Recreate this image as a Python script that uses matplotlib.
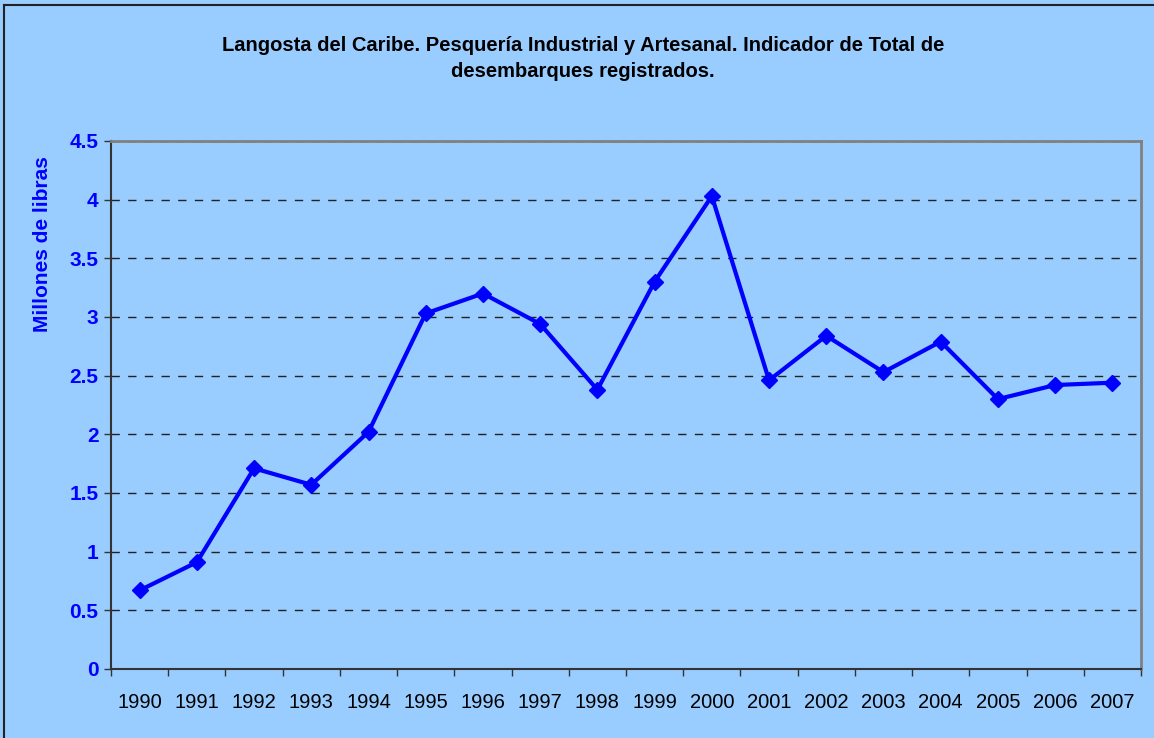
import matplotlib
matplotlib.use('Agg')
import matplotlib.pyplot as plt
from matplotlib.lines import Line2D

plt.rcParams['font.family'] = ['Liberation Sans', 'DejaVu Sans']

# datos: desembarques totales (millones de libras)
anios = ['1990', '1991', '1992', '1993', '1994', '1995', '1996', '1997', '1998',
         '1999', '2000', '2001', '2002', '2003', '2004', '2005', '2006', '2007']
desembarques = [0.67, 0.91, 1.71, 1.57, 2.02, 3.03, 3.20, 2.94, 2.38,
                3.30, 4.03, 2.46, 2.84, 2.53, 2.79, 2.30, 2.42, 2.44]
yticks = [0, 0.5, 1, 1.5, 2, 2.5, 3, 3.5, 4, 4.5]
titulo = ('Langosta del Caribe. Pesquería Industrial y Artesanal. Indicador de Total de\n'
          'desembarques registrados.')

fondo = '#99CCFF'
azul = '#0000FF'

fig = plt.figure(figsize=(11.54, 7.38), dpi=100)
fig.patch.set_facecolor(fondo)
ax = fig.add_axes([0.0962, 0.0935, 0.8925, 0.7155])
ax.set_facecolor(fondo)

x = list(range(len(anios)))
ax.plot(x, desembarques, color=azul, lw=3, marker='D', ms=8.5,
        markerfacecolor=azul, markeredgecolor=azul, zorder=3)

ax.set_xlim(-0.5, len(anios) - 0.5)
ax.set_ylim(0, 4.5)
ax.set_yticks(yticks)
ax.set_yticklabels([('%g' % v) for v in yticks], color=azul,
                   fontweight='bold', fontsize=15)
ax.set_xticks(x)
ax.set_xticklabels(anios, fontsize=14.5)
ax.set_xticks([i - 0.5 for i in range(len(anios) + 1)], minor=True)
ax.tick_params(axis='x', which='major', length=0, pad=17)
ax.tick_params(axis='x', which='minor', length=5, width=1, color='#333333',
               direction='out')
ax.tick_params(axis='y', length=5, width=1, color='#333333', direction='out', pad=4)

ax.yaxis.grid(True, color='#222222', linestyle=(0, (6, 6)), lw=1)
ax.set_axisbelow(True)

for s in ['left', 'bottom']:
    ax.spines[s].set_color('#333333')
    ax.spines[s].set_linewidth(1.5)
for s in ['top', 'right']:
    ax.spines[s].set_color('#808080')
    ax.spines[s].set_linewidth(2)

ax.set_ylabel('Millones de libras', color=azul, fontweight='bold', fontsize=15)
ax.yaxis.set_label_coords(-0.057, 0.805)

fig.text(0.505, 0.921, titulo, ha='center', va='center', fontsize=14.5,
         fontweight='bold', linespacing=1.5)

# marco del gráfico
fig.add_artist(Line2D([0.0035, 0.0035], [0, 0.993], color='#222222', lw=1.5,
                      transform=fig.transFigure))
fig.add_artist(Line2D([0.0035, 1], [0.993, 0.993], color='#222222', lw=1.5,
                      transform=fig.transFigure))

fig.savefig('out.png', dpi=100, facecolor=fondo)
